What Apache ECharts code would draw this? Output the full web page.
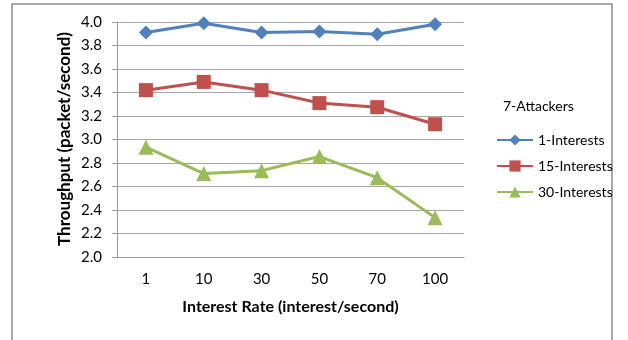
<!DOCTYPE html>
<html>
<head>
<meta charset="utf-8">
<script src="https://cdn.jsdelivr.net/npm/echarts@6/dist/echarts.min.js"></script>
<style>
  html, body { margin: 0; padding: 0; background: #fff; }
  #chart { width: 628px; height: 340px; }
</style>
</head>
<body>
<div id="chart"></div>
<script>
// Interest rates on the category axis
var categories = ['1', '10', '30', '50', '70', '100'];

// Throughput per interest count (7 attackers)
var interests1 = [3.91, 3.99, 3.91, 3.92, 3.895, 3.98];
var interests15 = [3.42, 3.49, 3.42, 3.31, 3.275, 3.13];
var interests30 = [2.935, 2.71, 2.735, 2.855, 2.675, 2.335];

var seriesNames = ['1-Interests', '15-Interests', '30-Interests'];
var legendTitle = '7-Attackers';
var yTitle = 'Throughput (packet/second)';
var xTitle = 'Interest Rate (interest/second)';

var FONT = 'Lato';
var chart = echarts.init(document.getElementById('chart'), null, { renderer: 'canvas' });

function lineSeries(name, data, color, symbol, size) {
  return {
    name: name,
    type: 'line',
    data: data,
    symbol: symbol,
    symbolSize: size,
    showAllSymbol: true,
    lineStyle: { color: color, width: 3 },
    itemStyle: { color: color },
    animation: false
  };
}

chart.setOption({
  backgroundColor: '#ffffff',
  textStyle: { fontFamily: FONT },
  grid: { left: 117, right: 164, top: 22, bottom: 83 },
  title: {
    text: legendTitle,
    left: 503, top: 99,
    padding: 0,
    textStyle: { fontFamily: FONT, fontSize: 14, fontWeight: 'normal', color: '#000' }
  },
  legend: {
    orient: 'vertical',
    left: 496, top: 133,
    padding: 0,
    itemWidth: 36, itemHeight: 14,
    itemGap: 12,
    textStyle: { fontFamily: FONT, fontSize: 14, color: '#000' },
    data: seriesNames
  },
  xAxis: {
    type: 'category',
    data: categories,
    boundaryGap: true,
    name: xTitle,
    nameLocation: 'middle',
    nameGap: 42,
    nameTextStyle: { fontFamily: FONT, fontSize: 16, fontWeight: 'bold', color: '#000' },
    axisLine: { lineStyle: { color: '#9a9a9a', width: 1 } },
    axisTick: { show: false },
    axisLabel: { fontFamily: FONT, fontSize: 15, color: '#000', margin: 15 }
  },
  yAxis: {
    type: 'value',
    min: 2.0, max: 4.0, interval: 0.2,
    axisLine: { show: true, lineStyle: { color: '#9a9a9a', width: 1 } },
    axisTick: { show: true, length: 5, lineStyle: { color: '#9a9a9a' } },
    splitLine: { lineStyle: { color: '#a6a6a6', width: 1 } },
    axisLabel: {
      fontFamily: FONT, fontSize: 15, color: '#000', margin: 15,
      formatter: function (v) { return v.toFixed(1); }
    }
  },
  graphic: [
    {
      type: 'rect',
      shape: { x: 12, y: 4, width: 600, height: 345 },
      style: { fill: 'none', stroke: '#8c8c8c', lineWidth: 1.5 },
      silent: true
    },
    {
      type: 'text',
      x: 65, y: 139,
      rotation: Math.PI / 2,
      style: {
        text: yTitle,
        font: 'bold 17px ' + FONT,
        fill: '#000',
        align: 'center',
        verticalAlign: 'middle'
      }
    }
  ],
  series: [
    lineSeries(seriesNames[0], interests1, '#4f81bd', 'diamond', 14),
    lineSeries(seriesNames[1], interests15, '#c0504d', 'rect', 14),
    lineSeries(seriesNames[2], interests30, '#9bbb59', 'triangle', 15)
  ]
});
</script>
</body>
</html>
